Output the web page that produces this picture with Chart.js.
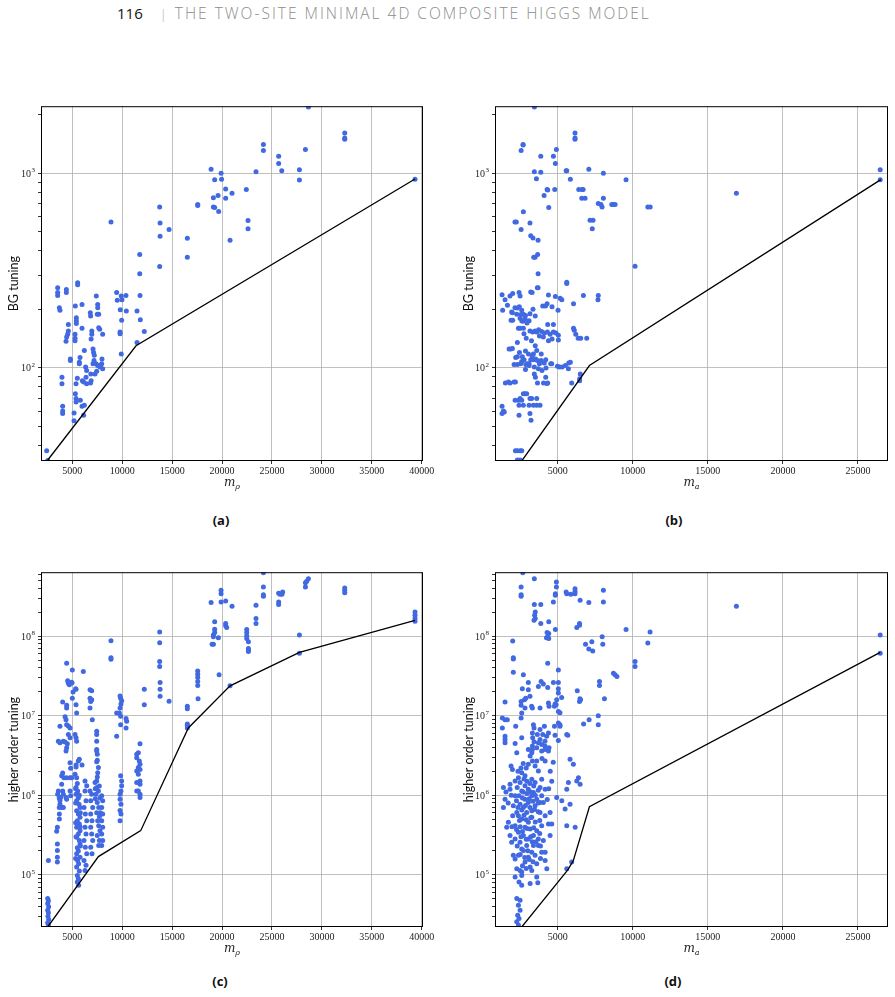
<!DOCTYPE html>
<html>
<head>
<meta charset="utf-8">
<script src="https://cdn.jsdelivr.net/npm/chart.js@4.4.1/dist/chart.umd.min.js"></script>
<style>
  body { margin: 0; background: #fff; width: 895px; height: 997px; position: relative; overflow: hidden; }
  canvas { position: absolute; }
  #header { position: absolute; left: 117px; top: 2px; white-space: nowrap; font-family: "Open Sans", sans-serif; }
  #header .pg { font-size: 15px; color: #111; }
  #header .sep { font-size: 13px; color: #aaa; margin: 0 8px 0 17px; font-weight: 300; }
  #header .run { font-size: 15.5px; color: #8c8c8c; letter-spacing: 2px; font-weight: 300; }
  .cap { position: absolute; width: 60px; text-align: center; font: 700 13px "Open Sans", sans-serif; color: #111; }
</style>
</head>
<body>
<div id="header"><span class="pg">116</span><span class="sep">|</span><span class="run">THE TWO-SITE MINIMAL 4D COMPOSITE HIGGS MODEL</span></div>

<canvas id="panelA" width="440" height="400" style="left:0px;top:96px"></canvas>
<canvas id="panelB" width="447" height="400" style="left:448px;top:96px"></canvas>
<canvas id="panelC" width="440" height="400" style="left:0px;top:562px"></canvas>
<canvas id="panelD" width="447" height="400" style="left:448px;top:562px"></canvas>

<div class="cap" style="left:191px;top:511px">(a)</div>
<div class="cap" style="left:644px;top:511px">(b)</div>
<div class="cap" style="left:190px;top:972px">(c)</div>
<div class="cap" style="left:643px;top:972px">(d)</div>

<script>
// axis limits and ticks
const xTicksRho = [5000, 10000, 15000, 20000, 25000, 30000, 35000, 40000];
const xTicksMa = [5000, 10000, 15000, 20000, 25000];
const xRangeRho = [1860, 40130];
const xRangeMa = [820, 27000];
const yRangeBG = [33.2, 2218];
const yRangeHO = [2.2e4, 6.36e8];

// (a) BG tuning vs m_rho
const bgByRho = [
  [28650,2200],[32290,1614],[32290,1524],[32290,1500],[24140,1409],[24140,1312],[28350,1327],[25670,1227],[25670,1125],
  [25980,1033],[27750,1045],[27750,925],[23400,1021],[18900,1052],[19900,1004],[19950,933],[19260,927],[20360,832],
  [21000,790],[22430,826],[20360,746],[19600,770],[19130,749],[19130,673],[19260,668],[19660,637],[17560,692],[17560,684],
  [22600,573],[22600,520],[20800,453],[16520,464],[16520,371],[14690,515],[13750,673],[13790,556],[13790,475],[13750,332],
  [8870,562],[11750,383],[11750,305],[11780,236],[11480,196],[11810,177],[12210,154],[11480,135],[39330,935],
  [2430,37.5],[2530,33.4],
  [3530,258],[3530,244],[3530,236],[3700,204],[3760,198],[3960,89.6],[3960,82.8],[4030,63.4],[4030,60],[4030,58.2],
  [4400,253],[4400,244],[4600,167],[4600,155],[4530,149],[4430,144],[4370,137],[4800,111],[4800,109],[5170,58.6],
  [5170,53.4],[5300,73.6],[5370,69.5],[5370,66.7],[5370,82.8],[5500,88.5],[5300,208],[5530,274],[5530,268],[5400,181],
  [5400,175],[5400,169],[5270,149],[5270,142],[5270,138],[5770,113],[5700,107],[5700,105],[5970,212],[5970,160],
  [6200,123],[6000,86],[6130,84.5],[5800,68.1],[5970,63.4],[6330,101],[6430,96.9],[6370,89.6],[6430,82.8],[6200,64.2],
  [6130,57],[6800,192],[6830,185],[6950,155],[6950,149],[6880,141],[7070,125],[7130,120],[7200,116],[7170,109],
  [7070,105],[6850,93.1],[6880,86],[6820,83.5],[7400,234],[7540,212],[7540,204],[7500,189],[7640,189],[7640,161],
  [7740,158],[8040,149],[7370,105],[7540,103],[7670,103],[7940,105],[7970,111],[7440,96.2],[7270,93.1],[7770,101],
  [8040,98.9],[9440,244],[9500,223],[9900,234],[9970,224],[10370,236],[9800,199],[9940,176],[9780,153],[9780,150],
  [10410,196],[9900,118]
];
const boundBgRho = [[2540,33.6],[11380,130],[39330,936]];

// (b) BG tuning vs m_a
const bgByMa = [
  [3444,2200],[6150,1614],[6150,1524],[6150,1500],[2690,1409],[2690,1400],[2560,1312],[3870,1227],[4710,1227],
  [4910,1327],[4840,1125],[7070,1052],[3440,1021],[3870,1013],[5560,1033],[5600,1033],[8040,1004],[5840,933],
  [3580,938],[9550,927],[16900,790],[26480,1045],[26480,927],[4290,826],[4330,823],[4800,826],[4090,770],[6400,826],
  [6620,826],[6690,826],[6600,746],[6820,746],[8040,746],[7700,700],[7880,692],[7950,673],[8600,692],[8710,692],
  [8820,692],[11000,673],[11160,673],[4400,668],[2710,635],[2150,562],[2240,562],[3150,556],[2560,515],[7150,575],
  [7350,575],[7300,520],[3200,478],[3350,466],[3690,453],[3400,371],[3490,371],[3660,383],[3690,305],[10150,333],
  [3640,258],[5600,276],[5600,272],
  [1290,238],[1490,224],[1820,234],[2000,241],[1650,210],[1330,198],[2420,244],[2490,234],[3200,246],[3290,244],
  [3690,258],[4380,237],[4840,233],[5160,228],[5270,224],[6050,214],[6710,236],[7700,236],[7680,224],[4000,208],
  [4180,208],[4290,214],[4620,206],[5020,198],
  [2150,204],[2310,203],[2440,206],[2270,189],[2600,198],[2710,189],[1890,176],[2000,176],[2490,180],[2600,175],
  [2670,174],[2820,179],[3090,175],[1930,194],[1980,192],[3150,190],
  [2380,160],[2490,160],[2710,160],[3150,155],[3330,153],[3490,155],[3600,153],[3730,157],[3930,154],[4110,151],
  [4310,153],[4490,149],[4710,153],[4880,151],[5040,147],[4330,167],[4710,167],[3780,146],[4040,144],[4380,138],
  [4620,141],[5040,139],[6100,156],[6200,149],[6360,142],[6530,142],[6930,142],[6050,160],[2310,135],[1760,125],
  [1870,125],[1980,126],
  [2200,113],[2310,114],[2640,114],[2760,110],[2980,105],[3090,105],[3200,110],[3380,110],[3530,111],[3640,109],
  [3780,105],[3890,109],[3380,118],[3600,123],[4200,110],[4530,105],[2090,104],[2310,104],[2530,105],[2870,104],
  [3090,103],[3440,101],[3710,99],[4220,100],[4600,105],[4980,102],[5110,101],[5290,101],[5510,103],[5730,106],
  [5840,107],[3440,93],[3510,89.6],[4200,89.6],[3650,83.5],[4050,83.5],[4270,83.1],[4330,83.5],[5930,83.5],[6500,93],
  [6460,88],[6460,86],[5710,99],
  [1510,83.5],[1710,84.5],[1820,83.5],[2090,84.5],[2180,84.5],[2710,73.6],[2820,73.6],[2930,73.6],[2490,69.5],
  [3150,69.5],[3260,69.5],[3600,69.5],[2160,68.1],[2380,68.1],[2600,68.1],[2420,64.2],[2710,64.2],[3090,64.2],
  [3380,64.2],[3600,64.2],[3820,64.2],[1290,63.4],[1380,60],[1440,59.4],[1290,58.2],[2420,57],[3150,58.2],[3220,53.8],
  [2180,37.5],[2310,37.5],[2490,37.5],[2600,37.5],[2310,33.6],[2490,33.6],
  [2550,188],[2850,186],[2950,170],[3350,200],[3500,185],[2750,150],[2900,142],[3250,138],[3500,130],[2450,120],
  [2850,122],[3050,118],[3300,115],[3900,118],[4100,106],[2600,108],[2850,98],[3950,97]
];
const boundBgMa = [[1310,33.2],[2600,33.2],[7110,102.8],[26520,930]];

// (c) higher order tuning vs m_rho
const hoByRho = [
  [24140,6.25e8],[24140,4.14e8],[24140,3.32e8],[24140,3.16e8],[28350,4.69e8],[28650,5.26e8],[28480,4.9e8],[28350,4.14e8],
  [32290,4.02e8],[32290,3.76e8],[32290,3.52e8],[25670,3.47e8],[25800,3.35e8],[26070,3.58e8],[26000,3.35e8],[25670,2.68e8],
  [25670,2.49e8],[19900,3.76e8],[19900,3.41e8],[19900,2.68e8],[18900,2.64e8],[20360,2.77e8],[21000,2.37e8],[23400,2.44e8],
  [23400,1.66e8],[23400,1.44e8],[20360,1.44e8],[20360,1.35e8],[20460,1.28e8],[19260,1.51e8],[19260,1.22e8],[19260,1.11e8],
  [19130,1.03e8],[19130,9.8e7],[19130,7.87e7],[19000,7.87e7],[19630,9.5e7],[19700,3.26e7],[22470,1.21e8],[22470,1.11e8],
  [22470,1.01e8],[22470,9.35e7],[22640,8.5e7],[22640,7.0e7],[22640,6.7e7],[22640,6.4e7],[27750,1.03e8],[27750,6.07e7],
  [13750,1.13e8],[13750,8.26e7],[13750,4.78e7],[13750,4.14e7],[13790,2.61e7],[13790,2.15e7],[13790,1.75e7],[14690,1.52e7],
  [8870,8.75e7],[8870,5.35e7],[8870,5.1e7],[12210,2.15e7],[12210,1.37e7],[16520,1.31e7],[16520,1.22e7],[16520,7.87e6],
  [16520,7.57e6],[16520,7.0e6],[17560,3.65e7],[17560,3.32e7],[17560,3.01e7],[17560,2.68e7],[17560,2.39e7],[17590,1.63e7],
  [20800,2.37e7],[39330,2.01e8],[39330,1.83e8],[39330,1.66e8],[39330,1.54e8],
  [4430,4.55e7],[5000,3.76e7],[6100,3.58e7],[4530,2.74e7],[4600,2.56e7],[4700,2.44e7],[4930,2.63e7],[4960,2.58e7],
  [6770,2.11e7],[6940,2.05e7],[4030,1.48e7],[4430,1.35e7],[4430,1.25e7],[5330,2.18e7],[5370,2.15e7],[5370,1.37e7],
  [5430,1.08e7],[5000,1.66e7],[5070,1.98e7],[6770,1.66e7],[6940,1.58e7],[6840,1.51e7],[6770,1.25e7],[7000,8.9e6],
  [9780,1.76e7],[9840,1.66e7],[9940,1.54e7],[9870,1.4e7],[9780,1.25e7],[9710,1.08e7],[9840,9.8e6],[9440,1.08e7],
  [9440,5.52e6],[9840,7.7e6],[10380,9.2e6],[10440,8.5e6],[10380,7.0e6],[3760,7.36e6],[4270,9.7e6],[4370,8.9e6],
  [4430,7.7e6],[4600,7.4e6],[4770,7.0e6],[4600,5.8e6],[4770,5.26e6],[4500,4.43e6],[4430,3.94e6],[4370,3.58e6],
  [3600,4.78e6],[3760,4.55e6],[4100,4.78e6],[4270,4.65e6],[5270,5.8e6],[5370,5.26e6],[5430,4.78e6],[7440,6.37e6],
  [7440,5.8e6],[7440,4.78e6],[7440,3.76e6],[7440,3.58e6],[7500,3.26e6],[7500,2.74e6],[7440,2.64e6],[7610,2.22e6],
  [7540,1.92e6],[7500,1.69e6],[7440,1.51e6],[5700,2.82e6],[5600,2.69e6],[5970,2.39e6],[4770,2.56e6],[4830,2.18e6],
  [5370,2.39e6],[5370,2.26e6],[4030,1.9e6],[3930,1.75e6],[4160,1.66e6],[4430,1.66e6],[4770,1.66e6],[4930,1.66e6],
  [11780,4.43e6],[11610,3.41e6],[11450,3.26e6],[11450,2.96e6],[11710,2.69e6],[11780,2.44e6],[11610,2.22e6],[11780,2.11e6],
  [11450,2.01e6],[11610,1.83e6],[11780,1.51e6],[11450,1.44e6],[11780,1.37e6],[11610,1.13e6],[11780,1.03e6],[11450,1.13e6],
  [11780,9.35e5],
  [9840,1.75e6],[9940,1.51e6],[9940,1.31e6],[9870,1.13e6],[9780,1.03e6],[9780,8.9e5],[9870,7.7e5],[9780,6.4e5],
  [9870,5.8e5],[9780,4.78e5],
  [3600,1.13e6],[3530,1.03e6],[3690,9.2e5],[3760,8.5e5],[3690,7.0e5],[3700,5.8e5],[3700,5.0e5],[3500,3.94e5],
  [3430,3.52e5],[3500,2.44e5],[3500,2.01e5],[3500,1.66e5],[3500,1.44e5],[3930,1.37e6],[4030,1.13e6],[4100,1.03e6],
  [3830,9.35e5],[4370,9.35e5],[4430,8.9e5],[3760,7.7e5],[3930,7.0e5],[4100,7.0e5],[4770,1.13e6],[4830,9.8e5],
  [5270,1.83e6],[5430,1.66e6],[5500,1.4e6],[5370,1.25e6],[5530,1.13e6],[5370,1.03e6],[5600,9.2e5],[5430,8.5e5],
  [5670,7.7e5],[5770,7.0e5],[5430,6.37e5],[5600,5.8e5],[5770,5.26e5],[5500,4.78e5],[5700,4.34e5],[5430,3.94e5],
  [5770,3.58e5],[5600,3.26e5],[5430,2.96e5],[5700,2.69e5],[5770,2.44e5],[5500,2.18e5],[5600,1.98e5],[5430,1.83e5],
  [5770,1.66e5],[5530,1.51e5],[5630,1.37e5],[5430,1.25e5],[5700,1.11e5],[5500,9.8e4],[5600,8.9e4],[5500,8.1e4],
  [5630,7.36e4],[5330,1.2e6],[5700,1.0e6],[5330,8.0e5],[5800,6.0e5],[5330,4.5e5],[5770,4.0e5],[5370,3.0e5],
  [5800,2.3e5],[5330,1.6e5],
  [6270,1.51e6],[6440,1.31e6],[6270,1.13e6],[6370,8.5e5],[6170,7.0e5],[6300,5.8e5],[6440,4.78e5],[6270,3.94e5],
  [6370,3.26e5],[6170,2.69e5],[6300,2.22e5],[6440,1.83e5],[6170,1.51e5],[6370,1.31e5],[6270,1.13e5],
  [6770,1.13e6],[6940,1.03e6],[6840,8.5e5],[7040,7.0e5],[6840,5.8e5],[6970,4.78e5],[6840,3.94e5],[6940,3.26e5],
  [7040,2.69e5],[6840,2.22e5],[6970,1.83e5],
  [7270,1.44e6],[7440,1.25e6],[7610,1.13e6],[7370,1.03e6],[7770,9.2e5],[7500,8.1e5],[7640,7.0e5],[7440,6.0e5],
  [7710,5.4e5],[7540,4.78e5],[7640,4.14e5],[7770,3.58e5],[7500,3.1e5],[7710,2.69e5],[7640,2.33e5],[7300,1.2e6],
  [7300,9.0e5],[7700,1.3e6],[7800,6.0e5],
  [7940,9.8e5],[8040,8.5e5],[7940,7.0e5],[8040,5.8e5],[7940,4.78e5],[8040,3.94e5],[7940,3.26e5],[8040,2.69e5],
  [7940,2.33e5],[2600,1.51e5],
  [2530,5.01e4],[2600,4.69e4],[2530,4.34e4],[2630,3.94e4],[2530,3.58e4],[2600,3.32e4],[2560,3.01e4],[2630,2.74e4],
  [2530,2.49e4],[2600,2.33e4]
];
const boundHoRho = [[2530,2.2e4],[7610,1.69e5],[11850,3.58e5],[16620,7.0e6],[20800,2.37e7],[27750,6.25e7],[39330,1.58e8]];

// (d) higher order tuning vs m_a
const hoByMa = [
  [2670,6.25e8],[3440,5.26e8],[2560,4.14e8],[2560,3.32e8],[2560,3.16e8],[4910,4.78e8],[4910,4.14e8],[4840,3.41e8],
  [4840,3.26e8],[5560,3.58e8],[5600,3.41e8],[5870,3.35e8],[6150,3.94e8],[6150,3.65e8],[6150,3.41e8],[8040,3.76e8],
  [8040,2.68e8],[7070,2.64e8],[6490,2.82e8],[4710,2.68e8],[3440,2.49e8],[3870,2.49e8],[3500,2.01e8],[3460,1.83e8],
  [3500,1.66e8],[3420,1.58e8],[3870,1.44e8],[4400,1.51e8],[16900,2.37e8],[4840,1.21e8],[4290,1.11e8],[4400,1.08e8],
  [4330,9.8e7],[4250,9.5e7],[4400,9.35e7],[6270,1.28e8],[6450,1.44e8],[6450,1.37e8],[9550,1.21e8],[11150,1.13e8],
  [11000,8.2e7],[7960,9.8e7],[8000,7.87e7],[6850,7.87e7],[7070,6.88e7],[7270,8.5e7],[7330,6.5e7],[2000,8.66e7],
  [2040,5.35e7],[2040,5.16e7],[2040,3.52e7],[2710,3.26e7],[4330,4.55e7],[5040,3.76e7],[10150,4.78e7],[10150,4.14e7],
  [8710,3.41e7],[8820,3.26e7],[8940,3.1e7],[7780,2.68e7],[7780,2.39e7],[8110,1.63e7],[7700,1.0e7],[7700,7.7e6],
  [7090,8.9e6],[6720,7.87e6],[6300,2.05e7],[6450,1.51e7],[6480,1.63e7],[6520,1.58e7],[5600,5.8e6],[26480,1.03e8],
  [26480,6.07e7],
  [3040,2.61e7],[3890,2.68e7],[3710,2.33e7],[4040,2.49e7],[4330,2.26e7],[4710,2.61e7],[5040,2.61e7],[5040,2.18e7],
  [5040,1.92e7],[4930,1.58e7],[5260,1.69e7],[4890,1.37e7],[5040,1.13e7],[5150,1.09e7],
  [2640,2.18e7],[3040,2.11e7],[3150,1.75e7],[2560,1.51e7],[2780,1.58e7],[2870,1.66e7],[2560,1.35e7],[2820,1.25e7],
  [3260,1.31e7],[3310,1.25e7],[3820,1.25e7],[4380,1.44e7],[4420,1.31e7],[4780,1.31e7],[4820,1.4e7],[1490,1.48e7],
  [1310,9.35e6],[1490,8.9e6],[1640,8.9e6],[1310,7.0e6],[1490,5.52e6],[1490,5.01e6],[1490,4.55e6],[2200,7.36e6],
  [2600,5.26e6],[2160,4.47e6],[2600,1.08e7],[2560,9.35e6],
  [3380,7.7e6],[3420,7.0e6],[3310,6.07e6],[3330,5.26e6],[3420,4.69e6],[3310,4.14e6],[3820,6.68e6],[4110,7.36e6],
  [4000,5.8e6],[4260,5.52e6],[4380,6.07e6],[3640,5.8e6],[3820,5.01e6],[4150,4.78e6],[4420,3.94e6],[3930,4.34e6],
  [3310,3.76e6],[3600,3.94e6],[3710,4.55e6],[4150,4.14e6],[4820,5.68e6],[4780,7.36e6],[5040,8.1e6],[5150,7.36e6],
  [5150,7.7e6],[5670,5.68e6],[5040,4.87e6],
  [2270,3.41e6],[1890,2.33e6],[1980,2.11e6],[2160,1.51e6],[1820,1.19e6],[1380,1.25e6],[1490,8.9e5],[1380,7.0e5],
  [1710,4.55e5],[1600,3.94e5],[1820,3.1e5],[1930,2.56e5],[2040,1.75e5],[2160,1.58e5],[2270,1.19e5],[2490,1.13e5],
  [2600,9.8e4],[2160,9.35e4],[2420,8.1e4],[2600,7.36e4],
  [3040,3.76e6],[3270,3.41e6],[3160,3.1e6],[3310,2.69e6],[3040,2.44e6],[2600,1.92e6],[2380,1.66e6],[2490,1.44e6],
  [2820,1.31e6],[2600,1.13e6],[2420,9.8e5],[2820,8.9e5],[2490,7.7e5],[2710,7.0e5],[2930,6.07e5],[2380,5.52e5],
  [2600,5.01e5],[3040,4.55e5],[2820,3.94e5],[2380,3.41e5],[2710,3.1e5],[3040,2.82e5],[2490,2.56e5],[2930,2.33e5],
  [2710,2.01e5],[2380,1.75e5],[3040,1.66e5],[2820,1.44e5],[3160,1.25e5],[2600,1.08e5],
  [3600,2.69e6],[3930,3.58e6],[4160,3.76e6],[4380,3.58e6],[4160,2.69e6],[3710,2.01e6],[3930,1.58e6],[3490,1.44e6],
  [3820,1.25e6],[4160,1.19e6],[3380,1.08e6],[3930,9.8e5],[3600,8.9e5],[4040,8.1e5],[3490,7.36e5],[3820,6.07e5],
  [4160,5.52e5],[3270,5.26e5],[4380,4.34e5],[3930,4.14e5],[3600,3.58e5],[3380,3.1e5],[4040,2.69e5],[3710,2.33e5],
  [4160,1.92e5],[3490,1.75e5],[4160,1.51e5],[3600,1.37e5],[3270,1.13e5],[4270,1.19e5],[3600,9.35e4],[3160,7.73e4],
  [3670,7.94e4],
  [4600,4.34e5],[4930,9.35e5],[5270,8.5e5],[5490,6.68e5],[5600,4.14e5],[5820,7.7e5],[5710,1.44e6],[6040,2.44e6],
  [5820,2.82e6],[6270,1.51e6],[6380,1.66e6],[6490,1.37e6],[6160,3.94e5],[5600,1.19e6],[4490,3.1e5],[5600,1.19e5],
  [5930,1.44e5],
  [2160,9.8e5],[3270,9.8e5],[3040,8.1e5],[3270,6.37e5],[2270,6.07e5],[3160,3.76e5],[2160,4.14e5],[3380,2.33e5],
  [3270,1.92e5],[3710,2.82e5],[2160,2.82e5],[2820,1.75e6],[3490,2.33e6],[3820,8.1e5],[3040,1.19e6],[3270,1.58e6],
  [1820,1.37e6],[2040,7.36e5],[4490,6.07e5],[3930,1.92e5],
  [2550,2.2e6],[2700,2.5e6],[2900,2.2e6],[2350,2.0e6],[2750,1.6e6],[2950,1.5e6],[3150,1.4e6],[3400,1.3e6],
  [2300,1.25e6],[2700,1.1e6],[2950,1.05e6],[3200,1.1e6],[3500,1.0e6],[3700,1.15e6],[2250,8.5e5],[2650,9.2e5],
  [3100,9.0e5],[3350,8.4e5],[3700,8.0e5],[2350,7.0e5],[2600,6.5e5],[2850,7.4e5],[3150,7.0e5],[3450,6.6e5],
  [3700,6.2e5],[2450,4.8e5],[2750,5.6e5],[2900,4.9e5],[3200,5.2e5],[3500,4.6e5],[3800,4.8e5],[2250,3.7e5],
  [2500,4.0e5],[2650,3.5e5],[2950,3.8e5],[3400,3.9e5],[3800,3.3e5],[2550,3.0e5],[2900,2.8e5],[3200,3.0e5],
  [3550,2.6e5],[2300,2.3e5],[2600,2.1e5],[3000,2.0e5],[3300,2.6e5],[3850,2.3e5],[2500,1.8e5],[2800,1.65e5],
  [3100,1.55e5],[3350,1.45e5],[2650,1.3e5],[2900,1.2e5],[3850,1.6e5],[1950,4.0e5],[2000,5.5e5],[1700,8.0e5],
  [1900,1.0e6],[1550,1.1e6],[4300,8.8e5],[4400,1.2e6],[4600,1.5e6],[4500,2.0e6],[4700,2.6e6],[3950,2.9e6],
  [2270,5.01e4],[2490,4.78e4],[2380,4.14e4],[2490,3.58e4],[2330,3.1e4],[2420,2.82e4],[2270,2.56e4],[2380,2.33e4]
];
const boundHoMa = [[1310,2.2e4],[2600,2.2e4],[5670,1.15e5],[6040,1.51e5],[7110,7.15e5],[26480,6.25e7]];

function isDecade(v) {
  const l = Math.log10(v);
  return Math.abs(l - Math.round(l)) < 1e-9;
}

// major + minor ticks of a log axis, like matplotlib
function logTicks(scale) {
  const ticks = [];
  const lo = Math.floor(Math.log10(scale.min)), hi = Math.ceil(Math.log10(scale.max));
  for (let e = lo; e <= hi; e++) {
    for (let k = 1; k <= 9; k++) {
      const v = k * Math.pow(10, e);
      if (v >= scale.min && v <= scale.max) ticks.push({ value: v, major: k === 1 });
    }
  }
  scale.ticks = ticks;
}

const framePlugin = {
  id: 'frame',
  afterDatasetsDraw(chart) {
    const { ctx, chartArea: a } = chart;
    ctx.save();
    ctx.strokeStyle = '#000';
    ctx.lineWidth = 1;
    ctx.strokeRect(a.left + 0.5, a.top + 0.5, a.right - a.left - 1, a.bottom - a.top - 1);
    ctx.restore();
  }
};

// "10" with a raised exponent on the decade ticks, and the x symbol m with a subscript
function labelPlugin(sub) {
  return {
    id: 'labels',
    afterDraw(chart) {
      const { ctx, chartArea: a } = chart;
      const ys = chart.scales.y;
      ctx.save();
      ctx.fillStyle = '#222';
      ctx.textBaseline = 'alphabetic';
      ys.ticks.forEach(t => {
        if (!isDecade(t.value)) return;
        const py = ys.getPixelForValue(t.value);
        const exp = String(Math.round(Math.log10(t.value)));
        ctx.font = '7px "Liberation Serif"';
        const we = ctx.measureText(exp).width;
        const right = a.left - 6;
        ctx.textAlign = 'right';
        ctx.fillText(exp, right, py - 1);
        ctx.font = '10px "Liberation Serif"';
        ctx.fillText('10', right - we - 0.5, py + 3.5);
      });
      const cx = (a.left + a.right) / 2, y = a.bottom + 25;
      ctx.textAlign = 'left';
      ctx.font = 'italic 12px "DejaVu Serif"';
      const w = ctx.measureText('m').width;
      ctx.font = 'italic 8px "DejaVu Serif"';
      const ws = ctx.measureText(sub).width;
      const x0 = cx - (w + ws) / 2;
      ctx.font = 'italic 12px "DejaVu Serif"';
      ctx.fillText('m', x0, y);
      ctx.font = 'italic 8px "DejaVu Serif"';
      ctx.fillText(sub, x0 + w, y + 3);
      ctx.restore();
    }
  };
}

function makePanel(id, pts, bound, xTicks, xRange, yRange, yTitle, sub, yWidth, padRight, titlePad) {
  new Chart(document.getElementById(id), {
    type: 'scatter',
    data: {
      datasets: [
        {
          data: bound.map(p => ({ x: p[0], y: p[1] })),
          showLine: true, borderColor: '#000', borderWidth: 1.3, pointRadius: 0, clip: 0
        },
        {
          data: pts.map(p => ({ x: p[0], y: p[1] })),
          backgroundColor: '#4169e1', borderWidth: 0, pointRadius: 2.5, clip: 0
        }
      ]
    },
    options: {
      responsive: false,
      animation: false,
      devicePixelRatio: 1,
      layout: { padding: { top: 8, right: padRight, left: 0, bottom: 0 } },
      plugins: { legend: { display: false }, tooltip: { enabled: false } },
      scales: {
        x: {
          type: 'linear', min: xRange[0], max: xRange[1],
          afterBuildTicks: s => { s.ticks = xTicks.map(v => ({ value: v })); },
          afterFit: s => { s.height = 35; },
          border: { display: false },
          grid: { color: '#b0b0b0', lineWidth: 0.8, tickColor: '#000', tickLength: 3, tickWidth: 0.8 },
          ticks: {
            autoSkip: false, maxRotation: 0, padding: 1, color: '#222',
            font: { family: 'Liberation Serif', size: 10 },
            callback: v => String(v)
          }
        },
        y: {
          type: 'logarithmic', min: yRange[0], max: yRange[1],
          afterBuildTicks: logTicks,
          afterFit: s => { s.width = yWidth; },
          border: { display: false },
          grid: {
            color: c => (c.tick && isDecade(c.tick.value)) ? '#b0b0b0' : 'rgba(0,0,0,0)',
            lineWidth: 0.8, tickColor: '#000', tickLength: 3, tickWidth: 0.8
          },
          ticks: { autoSkip: false, callback: () => '' },
          title: {
            display: true, text: yTitle, color: '#111',
            font: { family: 'Lato', size: 12.5 },
            padding: { top: titlePad, bottom: 0 }
          }
        }
      }
    },
    plugins: [framePlugin, labelPlugin(sub)]
  });
}

makePanel('panelA', bgByRho, boundBgRho, xTicksRho, xRangeRho, yRangeBG, 'BG tuning', 'ρ', 41, 17, 6);
makePanel('panelB', bgByMa, boundBgMa, xTicksMa, xRangeMa, yRangeBG, 'BG tuning', 'a', 47, 7, 13);
makePanel('panelC', hoByRho, boundHoRho, xTicksRho, xRangeRho, yRangeHO, 'higher order tuning', 'ρ', 41, 17, 6);
makePanel('panelD', hoByMa, boundHoMa, xTicksMa, xRangeMa, yRangeHO, 'higher order tuning', 'a', 47, 7, 13);
</script>
</body>
</html>
